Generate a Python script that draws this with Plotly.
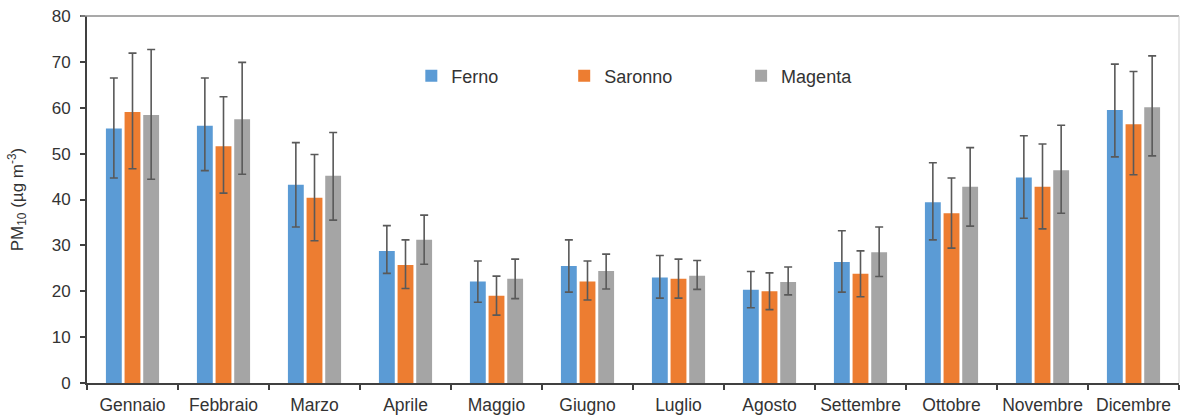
import plotly.graph_objects as go

months = ["Gennaio", "Febbraio", "Marzo", "Aprile", "Maggio", "Giugno",
          "Luglio", "Agosto", "Settembre", "Ottobre", "Novembre", "Dicembre"]

ferno = [55.5, 56.1, 43.2, 28.8, 22.1, 25.5, 23.0, 20.3, 26.4, 39.4, 44.8, 59.5]
ferno_hi = [66.5, 66.5, 52.4, 34.3, 26.6, 31.2, 27.8, 24.3, 33.2, 48.0, 53.9, 69.5]
ferno_lo = [44.7, 46.3, 34.0, 23.9, 17.6, 19.8, 18.5, 16.4, 19.8, 31.2, 35.9, 49.3]

saronno = [59.1, 51.6, 40.4, 25.7, 19.0, 22.1, 22.7, 20.0, 23.8, 37.0, 42.8, 56.4]
saronno_hi = [71.9, 62.4, 49.8, 31.2, 23.3, 26.6, 27.0, 24.0, 28.8, 44.7, 52.1, 67.9]
saronno_lo = [46.7, 41.4, 31.0, 20.6, 14.8, 18.1, 18.5, 16.0, 18.8, 29.4, 33.6, 45.4]

magenta = [58.4, 57.5, 45.2, 31.2, 22.7, 24.4, 23.4, 22.0, 28.5, 42.8, 46.4, 60.1]
magenta_hi = [72.7, 69.9, 54.6, 36.6, 27.0, 28.1, 26.7, 25.3, 34.0, 51.3, 56.2, 71.3]
magenta_lo = [44.4, 45.5, 35.5, 25.9, 18.4, 20.5, 20.4, 19.2, 23.2, 34.2, 37.0, 49.5]

series = [
    ("Ferno", ferno, ferno_hi, ferno_lo, "#5B9BD5", "legend"),
    ("Saronno", saronno, saronno_hi, saronno_lo, "#ED7D31", "legend2"),
    ("Magenta", magenta, magenta_hi, magenta_lo, "#A5A5A5", "legend3"),
]

fig = go.Figure()
for name, vals, hi, lo, color, leg in series:
    fig.add_trace(go.Bar(
        x=months, y=vals, name=name, marker_color=color, marker_line_width=0,
        legend=leg, showlegend=True,
        error_y=dict(type="data", symmetric=False,
                     array=[h - v for h, v in zip(hi, vals)],
                     arrayminus=[v - l for v, l in zip(vals, lo)],
                     color="#595959", thickness=1.6, width=4),
    ))

font_family = "Liberation Sans, Arial, sans-serif"
legend_common = dict(orientation="h", yanchor="middle", xanchor="left", visible=True,
                     bgcolor="rgba(0,0,0,0)", font=dict(size=18, color="#333333", family=font_family))

fig.update_layout(
    width=1181, height=416,
    margin=dict(l=87, r=2, t=16, b=33),
    paper_bgcolor="white", plot_bgcolor="white",
    showlegend=True,
    barmode="group", bargap=0.385, bargroupgap=0.15,
    font=dict(family=font_family, color="#333333"),
    legend=dict(x=0.297, y=0.8365, **legend_common),
    legend2=dict(x=0.437, y=0.8365, **legend_common),
    legend3=dict(x=0.599, y=0.8365, **legend_common),
    xaxis=dict(showline=True, linecolor="#404040", linewidth=2,
               ticks="outside", ticklen=5, tickcolor="#404040", tickwidth=1.5,
               tickson="boundaries", showgrid=False, tickangle=0, automargin=False,
               ticklabelstandoff=5,
               tickfont=dict(size=17.5, color="#333333")),
    yaxis=dict(range=[0, 80], dtick=10, showline=True, linecolor="#404040", linewidth=2,
               ticks="outside", ticklen=5, tickcolor="#404040", tickwidth=1.5,
               showgrid=False, zeroline=False, ticklabelstandoff=6, automargin=False,
               tickfont=dict(size=17, color="#333333"),
               title=dict(text="PM<sub>10</sub> (µg m<sup>-3</sup>)", standoff=24,
                          font=dict(size=17, color="#333333"))),
    shapes=[
        dict(type="line", xref="paper", yref="paper", x0=-0.006, x1=1, y0=1, y1=1,
             line=dict(color="#8c8c8c", width=1.5)),
        dict(type="line", xref="paper", yref="paper", x0=1, x1=1, y0=0, y1=1,
             line=dict(color="#cfcfcf", width=1)),
    ],
)

fig.write_html("out.html")
